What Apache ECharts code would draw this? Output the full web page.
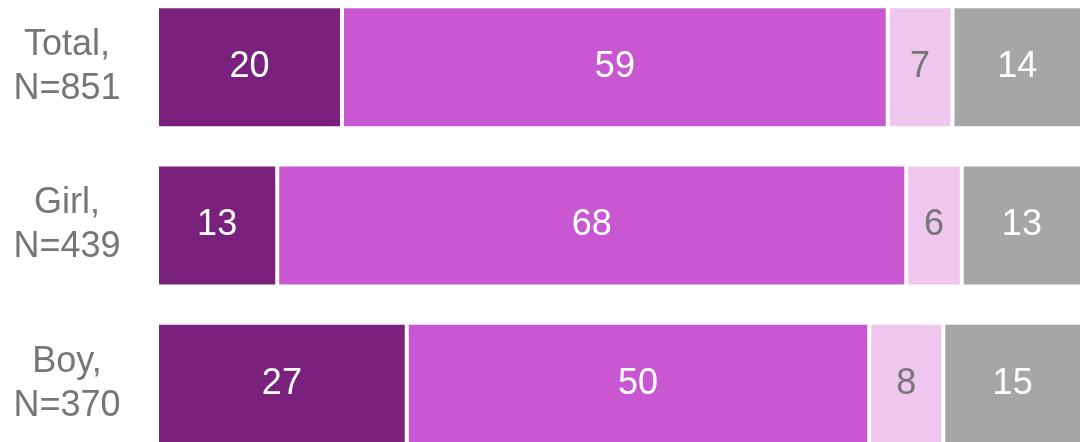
<!DOCTYPE html>
<html>
<head>
<meta charset="utf-8">
<script src="https://cdn.jsdelivr.net/npm/echarts@6/dist/echarts.min.js"></script>
<style>
  html, body { margin: 0; padding: 0; background: #fff; overflow: hidden; width: 1082px; height: 442px; }
  /* chart area runs a little past the window edges, as in the cropped original */
  #chart { width: 1082px; height: 500px; margin-top: -12px; }
</style>
</head>
<body>
<div id="chart"></div>
<script>
// categories, top to bottom
const categories = ['Total,\nN=851', 'Girl,\nN=439', 'Boy,\nN=370'];
// segment values (%), same order as categories
const seg1 = [20, 13, 27];
const seg2 = [59, 68, 50];
const seg3 = [7, 6, 8];
const seg4 = [14, 13, 15];

const segColors = ['#7A217D', '#C957D1', '#EEC6EE', '#A6A6A6'];
const labelColors = ['#ffffff', '#ffffff', '#767676', '#ffffff'];
const FONT = '"Liberation Sans", Arial, sans-serif';

const chart = echarts.init(document.getElementById('chart'));

const mk = (name, data, i) => ({
  name, type: 'bar', stack: 'all', data,
  barWidth: 122,
  itemStyle: { color: segColors[i], borderColor: '#ffffff', borderWidth: 2 },
  label: {
    show: true, position: 'inside',
    color: labelColors[i], fontFamily: FONT, fontSize: 36,
  },
  emphasis: { disabled: true },
});

chart.setOption({
  animation: false,
  grid: { left: 157, right: 0, top: 0, height: 475 },
  xAxis: { type: 'value', min: 0, max: 100, show: false },
  yAxis: {
    type: 'category', inverse: true, data: categories,
    axisLine: { show: false }, axisTick: { show: false },
    axisLabel: {
      color: '#767676', fontFamily: FONT, fontSize: 36, lineHeight: 44,
      align: 'center', margin: 90,
    },
  },
  series: [
    mk('a', seg1, 0),
    mk('b', seg2, 1),
    mk('c', seg3, 2),
    mk('d', seg4, 3),
  ],
});
</script>
</body>
</html>
